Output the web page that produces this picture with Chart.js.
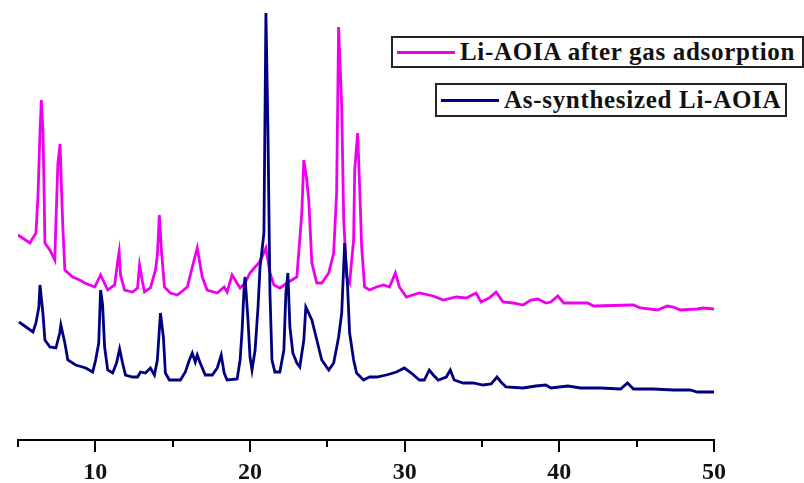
<!DOCTYPE html>
<html>
<head>
<meta charset="utf-8">
<script src="https://cdn.jsdelivr.net/npm/chart.js@4"></script>
<style>
  body { margin: 0; background: #fff; }
  #wrap { position: relative; width: 804px; height: 483px; }
  .leg {
    position: absolute; box-sizing: border-box; border: 2px solid #222; background: #fff;
    font-family: "Liberation Serif", "DejaVu Serif", serif; font-weight: bold; font-size: 25px;
    letter-spacing: 0.7px; color: #111; white-space: nowrap; display: flex; align-items: center;
  }
  .leg i { display: inline-block; width: 58px; height: 3px; margin: 0 5px 0 4px; }
</style>
</head>
<body>
<div id="wrap">
  <canvas id="xrdChart" width="804" height="483"></canvas>
  <div class="leg" id="leg0" style="left:391px;top:36px;width:413px;height:32px;"></div>
  <div class="leg" id="leg1" style="left:435px;top:83px;width:352px;height:34px;"></div>
</div>
<script>
// 2-theta positions and intensities (a.u.)
const afterGasX = [5.00, 5.77, 6.16, 6.29, 6.42, 6.51, 6.61, 6.67, 6.74, 7.06, 7.38, 7.45, 7.58, 7.72, 7.83, 7.90, 8.03, 8.54, 8.99, 9.31,
  9.96, 10.34, 10.80, 11.25, 11.44, 11.54, 11.63, 11.89, 12.41, 12.73, 12.86, 13.05, 13.18, 13.56, 13.89, 14.01, 14.14, 14.27, 14.47, 14.85,
  15.30, 15.95, 16.27, 16.59, 16.91, 17.23, 17.88, 18.33, 18.52, 18.84, 19.04, 19.36, 19.68, 20.00, 20.33, 20.58, 20.78, 21.03, 21.29, 21.55,
  21.93, 22.39, 23.03, 23.35, 23.48, 23.67, 23.80, 24.00, 24.32, 24.64, 25.09, 25.41, 25.60, 25.73, 25.93, 26.06, 26.25, 26.44, 26.70, 26.77,
  26.96, 27.09, 27.22, 27.41, 27.73, 28.18, 28.63, 29.02, 29.40, 29.66, 30.11, 30.95, 31.85, 32.50, 33.33, 33.98, 34.62, 34.94, 35.46, 35.91,
  36.36, 37.00, 37.65, 38.16, 38.61, 39.13, 39.45, 39.90, 40.29, 41.83, 42.22, 44.79, 45.24, 46.34, 46.98, 47.37, 47.82, 48.92, 49.30, 50.00];
const afterGasY = [205, 197, 207, 243, 307, 340, 310, 265, 197, 190, 180, 217, 277, 296, 243, 213, 170, 163, 160, 157,
  153, 165, 150, 155, 178, 188, 165, 150, 148, 152, 175, 158, 148, 152, 170, 185, 225, 190, 153, 147,
  145, 153, 173, 192, 163, 150, 147, 153, 148, 165, 160, 152, 157, 167, 173, 177, 183, 192, 167, 155,
  152, 157, 163, 227, 280, 260, 240, 177, 157, 157, 167, 187, 247, 413, 333, 220, 163, 157, 200, 270,
  307, 253, 193, 153, 150, 153, 155, 153, 167, 153, 143, 147, 144, 140, 143, 142, 147, 138, 142, 148,
  138, 137, 135, 140, 141, 137, 138, 144, 137, 137, 134, 135, 132, 130, 134, 133, 130, 131, 132, 131];

const synthX = [5.06, 5.52, 5.97, 6.16, 6.35, 6.42, 6.61, 6.74, 7.06, 7.45, 7.70, 7.77, 8.03, 8.22, 8.73, 9.38, 9.83, 10.02, 10.22, 10.34,
  10.47, 10.60, 10.80, 11.12, 11.37, 11.57, 11.76, 11.95, 12.41, 12.73, 12.92, 13.24, 13.56, 13.82, 14.01, 14.21, 14.40, 14.53, 14.79, 15.50,
  15.82, 16.08, 16.27, 16.46, 16.59, 16.78, 17.11, 17.56, 17.88, 18.14, 18.33, 18.52, 19.17, 19.36, 19.49, 19.62, 19.68, 19.87, 20.00, 20.13,
  20.33, 20.52, 20.65, 20.78, 20.90, 21.03, 21.16, 21.29, 21.42, 21.61, 21.93, 22.19, 22.32, 22.45, 22.58, 22.77, 23.03, 23.22, 23.48, 23.61,
  24.00, 24.32, 24.64, 25.09, 25.41, 25.73, 25.93, 26.12, 26.31, 26.44, 26.70, 26.89, 27.34, 27.73, 28.18, 28.82, 29.47, 29.98, 30.43, 30.95,
  31.27, 31.59, 31.85, 32.17, 32.69, 32.95, 33.20, 33.78, 34.43, 35.07, 35.59, 35.97, 36.23, 36.55, 37.65, 38.48, 39.13, 39.45, 40.55, 41.38,
  42.67, 43.96, 44.41, 44.79, 46.08, 47.37, 48.46, 48.92, 49.88, 50.00];
const synthY = [118, 113, 108, 117, 133, 155, 127, 100, 93, 92, 107, 115, 97, 80, 75, 72, 68, 80, 97, 150,
  135, 93, 70, 67, 77, 91, 77, 65, 63, 63, 68, 67, 72, 65, 80, 127, 103, 67, 60, 60,
  68, 80, 87, 78, 85, 77, 65, 65, 72, 85, 67, 60, 61, 80, 110, 153, 163, 120, 83, 70,
  90, 133, 173, 190, 207, 427, 310, 147, 80, 68, 68, 90, 147, 167, 113, 87, 77, 73, 100, 133,
  120, 100, 80, 70, 77, 103, 127, 197, 153, 107, 80, 67, 60, 63, 63, 65, 68, 72, 67, 60,
  60, 70, 65, 60, 63, 70, 60, 57, 57, 55, 56, 63, 58, 53, 52, 54, 55, 52, 54, 52,
  52, 51, 57, 51, 51, 50, 50, 48, 48, 48];

const seriesNames = ['Li-AOIA after gas adsorption', 'As-synthesized Li-AOIA'];
const seriesColors = ['#EE00EE', '#000080'];
const xTicks = [5, 10, 15, 20, 25, 30, 35, 40, 45, 50];

function toPoints(xs, ys) {
    return xs.map((x, i) => ({ x: x, y: ys[i] }));
}

// major / minor tick marks under the axis line
const tickMarks = {
    id: 'tickMarks',
    afterDraw(chart) {
        const ctx = chart.ctx;
        const sx = chart.scales.x;
        const y0 = chart.chartArea.bottom;
        ctx.save();
        ctx.strokeStyle = '#000';
        ctx.lineWidth = 2;
        xTicks.forEach(v => {
            const px = Math.round(sx.getPixelForValue(v));
            const len = (v % 10 === 0) ? 12 : 7;
            ctx.beginPath();
            ctx.moveTo(px, y0);
            ctx.lineTo(px, y0 + len);
            ctx.stroke();
        });
        ctx.restore();
    }
};

const ctx = document.getElementById('xrdChart').getContext('2d');
const xrdChart = new Chart(ctx, {
    type: 'line',
    data: {
        datasets: [{
            label: seriesNames[0],
            data: toPoints(afterGasX, afterGasY),
            borderColor: seriesColors[0],
            borderWidth: 2.8,
            pointRadius: 0,
            tension: 0,
            order: 1
        }, {
            label: seriesNames[1],
            data: toPoints(synthX, synthY),
            borderColor: seriesColors[1],
            borderWidth: 2.8,
            pointRadius: 0,
            tension: 0,
            order: 0
        }]
    },
    options: {
        responsive: false,
        animation: false,
        layout: {
            padding: { left: 15, right: 90, top: 0, bottom: 0 }
        },
        plugins: {
            legend: { display: false },
            tooltip: { enabled: false }
        },
        scales: {
            y: {
                display: false,
                min: 0,
                max: 440
            },
            x: {
                type: 'linear',
                min: 5,
                max: 50,
                afterBuildTicks: (axis) => { axis.ticks = xTicks.map(v => ({ value: v })); },
                afterFit: (axis) => { axis.height = 43; },
                grid: {
                    drawOnChartArea: false,
                    drawTicks: false
                },
                border: {
                    color: '#000',
                    width: 2
                },
                ticks: {
                    autoSkip: false,
                    maxRotation: 0,
                    padding: 18,
                    color: '#111',
                    font: { family: '"Liberation Serif", serif', weight: 'bold', size: 24 },
                    callback: (v) => (v % 10 === 0 ? v : '')
                }
            }
        }
    },
    plugins: [tickMarks]
});

// boxed legend entries, one box per series
seriesNames.forEach((name, i) => {
    const box = document.getElementById('leg' + i);
    const swatch = document.createElement('i');
    swatch.style.background = seriesColors[i];
    box.appendChild(swatch);
    box.appendChild(document.createTextNode(name));
});
</script>
</body>
</html>
